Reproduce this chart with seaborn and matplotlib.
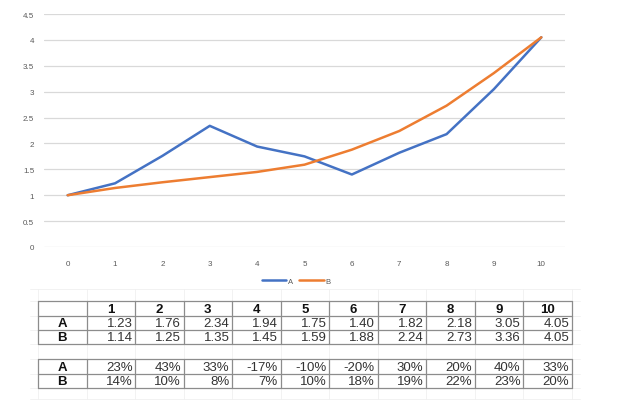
import pandas as pd
import seaborn as sns
import matplotlib.pyplot as plt

periods = list(range(0, 11))
serie_a = [1.00, 1.23, 1.76, 2.34, 1.94, 1.75, 1.40, 1.82, 2.18, 3.05, 4.05]
serie_b = [1.00, 1.14, 1.25, 1.35, 1.45, 1.59, 1.88, 2.24, 2.73, 3.36, 4.05]
pct_a = ["23%", "43%", "33%", "-17%", "-10%", "-20%", "30%", "20%", "40%", "33%"]
pct_b = ["14%", "10%", "8%", "7%", "10%", "18%", "19%", "22%", "23%", "20%"]
yticks = [0, 0.5, 1, 1.5, 2, 2.5, 3, 3.5, 4, 4.5]

df = pd.DataFrame({
    "x": periods * 2,
    "y": serie_a + serie_b,
    "serie": ["A"] * len(periods) + ["B"] * len(periods),
})

sns.set_theme(style="white")
plt.rcParams['font.family'] = ['Liberation Sans', 'DejaVu Sans']

W, H = 630, 414
fig = plt.figure(figsize=(W / 100, H / 100), dpi=100)

# Gráfico de linhas
ax = fig.add_axes([44 / W, 1 - 248 / H, 521 / W, 233 / H])
sns.lineplot(data=df, x="x", y="y", hue="serie", palette=["#4472C4", "#ED7D31"],
             linewidth=1.8, ax=ax, legend=False)
ax.set_xlim(-0.5, 10.5)
ax.set_ylim(0, 4.5)
ax.set_xticks(periods)
ax.set_yticks(yticks)
ax.set_yticklabels([f"{v:g}" for v in yticks])
ax.grid(axis="y", color="#D9D9D9", linewidth=0.9)
ax.set_axisbelow(True)
for s in ax.spines.values():
    s.set_visible(False)
ax.tick_params(axis="x", length=0, labelsize=5.8, labelcolor="#595959", pad=9)
ax.tick_params(axis="y", length=0, labelsize=5.8, labelcolor="#595959", pad=7)
ax.set_xlabel("")
ax.set_ylabel("")

# legenda
handles = [plt.Line2D([], [], color="#4472C4", lw=1.8),
           plt.Line2D([], [], color="#ED7D31", lw=1.8)]
fig.legend(handles, ["A", "B"], loc="center", bbox_to_anchor=(296 / W, 1 - 282 / H),
           ncol=2, frameon=False, fontsize=5.5, handlelength=3.2, handletextpad=0.2,
           columnspacing=0.8, labelcolor="#595959")

# Tabela (coordenadas em pixels)
tab = fig.add_axes([0, 0, 1, 1])
tab.set_xlim(0, W)
tab.set_ylim(H, 0)
tab.axis("off")

col_w = 48.5
x0 = 38
edges = [x0 + col_w * i for i in range(12)]
rows1 = [302, 317, 331, 345]
rows2 = [360, 375, 389]

# linhas de grade da planilha (fracas)
for x in edges:
    tab.plot([x, x], [290, 400], color="#F0F0F0", lw=0.6, zorder=1)
for y in [290] + rows1 + rows2 + [400]:
    tab.plot([30, 580], [y, y], color="#F0F0F0", lw=0.6, zorder=1)

# bordas das tabelas
for rows in (rows1, rows2):
    for y in rows:
        tab.plot([edges[0], edges[-1]], [y, y], color="#8C8C8C", lw=0.9, zorder=2)
    for x in edges:
        tab.plot([x, x], [rows[0], rows[-1]], color="#8C8C8C", lw=0.9, zorder=2)

fs = 9.5
# cabeçalho
for i in range(1, 11):
    tab.text((edges[i] + edges[i + 1]) / 2, (rows1[0] + rows1[1]) / 2 + 0.5, str(i),
             ha="center", va="center", fontsize=fs, fontweight="bold", color="#111111")

def row(y_top, y_bot, label, vals):
    yc = (y_top + y_bot) / 2 + 0.5
    tab.text((edges[0] + edges[1]) / 2, yc, label, ha="center", va="center",
             fontsize=fs, fontweight="bold", color="#111111")
    for i, v in enumerate(vals):
        tab.text(edges[i + 2] - 2.5, yc, v, ha="right", va="center",
                 fontsize=fs, color="#333333")

row(rows1[1], rows1[2], "A", [f"{v:.2f}" for v in serie_a[1:]])
row(rows1[2], rows1[3], "B", [f"{v:.2f}" for v in serie_b[1:]])
row(rows2[0], rows2[1], "A", pct_a)
row(rows2[1], rows2[2], "B", pct_b)

fig.savefig("out.png", dpi=100)
